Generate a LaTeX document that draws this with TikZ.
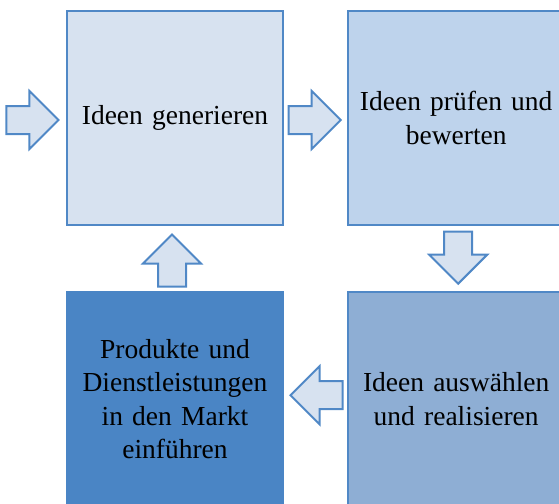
\documentclass[tikz,border=0pt]{standalone}
\usepackage{fontspec}
\setmainfont{Liberation Serif}
\usetikzlibrary{positioning, shapes.arrows, calc}

\definecolor{edgeblue}{HTML}{5088C6}
\definecolor{boxa}{HTML}{D7E2F0}
\definecolor{boxb}{HTML}{BED3EC}
\definecolor{boxc}{HTML}{8EAED4}
\definecolor{boxd}{HTML}{4A85C5}

\begin{document}
\begin{tikzpicture}[x=1pt, y=1pt, node distance=65pt and 63pt,
						box/.style={draw=edgeblue, line width=2.2pt, rectangle, minimum width=216pt, minimum height=214pt, text width=210pt, align=center, inner sep=0pt, font=\fontsize{27.5}{33.5}\selectfont},
						blockarrow/.style={single arrow, draw=edgeblue, line width=2pt, fill=boxa, inner sep=13pt, minimum height=52pt, single arrow head extend=15pt, anchor=tip}]
						
						\useasboundingbox (0,0) rectangle (559,-503);
						\clip (0,0) rectangle (559,-503);
						
						\node[box, fill=boxa] (gen) at (175,-118) {Ideen generieren};
						\node[box, fill=boxb, right=of gen] (pruef) {Ideen prüfen und\\bewerten};
						\node[box, fill=boxd, draw=boxd, below=of gen] (markt) {Produkte und\\Dienstleistungen\\in den Markt\\einführen};
						\node[box, fill=boxc, below=of pruef] (wahl) {Ideen auswählen\\und realisieren};
						
						\node[blockarrow] (start) at ($(gen.west)+(-6,-2)$) {};
						\node[blockarrow] (a1) at ($(pruef.west)+(-5,-2)$) {};
						\node[blockarrow, shape border rotate=270] (a2) at ($(wahl.north)+(2,6)$) {};
						\node[blockarrow, shape border rotate=180] (a3) at ($(markt.east)+(5,4)$) {};
						\node[blockarrow, shape border rotate=90] (a4) at ($(gen.south)+(-3,-7)$) {};
					\end{tikzpicture}
\end{document}
